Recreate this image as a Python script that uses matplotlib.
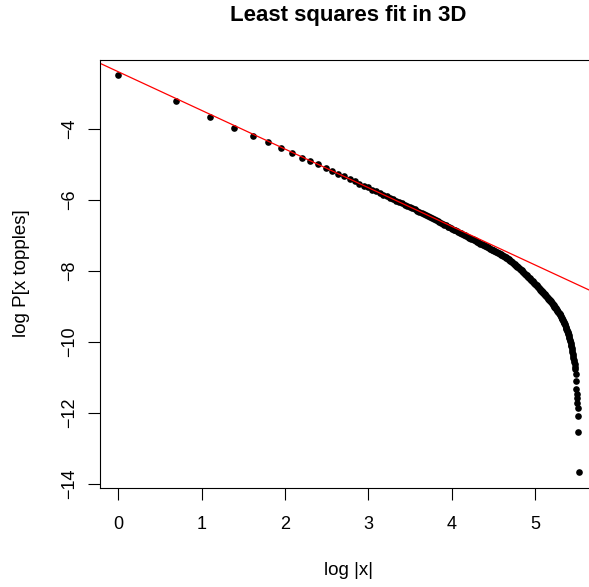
import numpy as np
import matplotlib
matplotlib.use("Agg")
import matplotlib.pyplot as plt

plt.rcParams['font.family'] = ['Liberation Sans', 'DejaVu Sans']

# avalanche sizes 1..250 and the estimated log probability of each
sizes = np.arange(1, 251)
log_p = [
    -2.49, -3.20, -3.65, -3.96, -4.20, -4.38, -4.54, -4.69, -4.81, -4.91,
    -5.00, -5.10, -5.18, -5.26, -5.34, -5.41, -5.48, -5.54, -5.60, -5.65,
    -5.71, -5.76, -5.80, -5.85, -5.90, -5.94, -5.98, -6.02, -6.06, -6.09,
    -6.13, -6.16, -6.20, -6.23, -6.26, -6.30, -6.33, -6.37, -6.40, -6.43,
    -6.46, -6.49, -6.52, -6.54, -6.58, -6.60, -6.62, -6.66, -6.68, -6.70,
    -6.72, -6.75, -6.77, -6.79, -6.82, -6.84, -6.86, -6.88, -6.90, -6.92,
    -6.94, -6.96, -6.98, -7.00, -7.02, -7.04, -7.06, -7.08, -7.09, -7.11,
    -7.13, -7.14, -7.16, -7.18, -7.19, -7.21, -7.23, -7.24, -7.26, -7.27,
    -7.29, -7.30, -7.32, -7.34, -7.35, -7.37, -7.38, -7.40, -7.41, -7.42,
    -7.44, -7.45, -7.47, -7.48, -7.49, -7.51, -7.52, -7.53, -7.54, -7.56,
    -7.57, -7.59, -7.61, -7.62, -7.64, -7.65, -7.67, -7.68, -7.70, -7.71,
    -7.73, -7.75, -7.76, -7.78, -7.80, -7.82, -7.83, -7.85, -7.87, -7.89,
    -7.90, -7.92, -7.94, -7.95, -7.97, -7.99, -8.01, -8.02, -8.04, -8.06,
    -8.08, -8.09, -8.11, -8.13, -8.14, -8.16, -8.18, -8.20, -8.21, -8.23,
    -8.25, -8.26, -8.28, -8.30, -8.31, -8.33, -8.35, -8.36, -8.38, -8.40,
    -8.41, -8.43, -8.45, -8.46, -8.48, -8.49, -8.51, -8.53, -8.54, -8.56,
    -8.57, -8.59, -8.60, -8.62, -8.64, -8.65, -8.67, -8.69, -8.70, -8.72,
    -8.74, -8.75, -8.77, -8.79, -8.80, -8.82, -8.83, -8.85, -8.86, -8.88,
    -8.90, -8.91, -8.93, -8.95, -8.97, -8.99, -9.01, -9.02, -9.04, -9.06,
    -9.08, -9.10, -9.11, -9.13, -9.15, -9.17, -9.18, -9.20, -9.22, -9.23,
    -9.25, -9.28, -9.30, -9.32, -9.35, -9.37, -9.39, -9.41, -9.43, -9.46,
    -9.48, -9.51, -9.54, -9.58, -9.61, -9.64, -9.67, -9.70, -9.73, -9.76,
    -9.79, -9.82, -9.86, -9.90, -9.94, -9.99, -10.04, -10.08, -10.13, -10.18,
    -10.23, -10.28, -10.34, -10.39, -10.45, -10.51, -10.57, -10.63, -10.70, -10.76,
    -10.90, -11.10, -11.33, -11.46, -11.59, -11.73, -11.87, -12.10, -12.55, -13.66,
]

# least squares line
fit_intercept = -2.39
fit_slope = -1.089

x_ticks = [0, 1, 2, 3, 4, 5]
y_ticks = [-4, -6, -8, -10, -12, -14]

log_x = np.log(sizes)

fig = plt.figure(figsize=(5.89, 5.87), dpi=100)
# plot region runs past the right edge of the picture, like the original
ax = fig.add_axes([0.1698, 0.1695, 0.8438, 0.7291])

ax.plot(log_x, log_p, 'o', color='black', markersize=4.8, markeredgewidth=0)
ax.axline((0, fit_intercept), slope=fit_slope, color='red', linewidth=0.9)

ax.set_xlim(-0.221, 5.742)
ax.set_ylim(-14.107, -2.043)
ax.set_xticks(x_ticks)
ax.set_yticks(y_ticks)
ax.tick_params(length=8.5, width=0.8, labelsize=13, color='black')
ax.tick_params(axis='x', pad=12)
ax.tick_params(axis='y', pad=7, labelrotation=90)
for lbl in ax.get_yticklabels():
    lbl.set_verticalalignment('center')
for sp in ax.spines.values():
    sp.set_linewidth(0.8)
    sp.set_color('black')

ax.set_xlabel("log |x|", fontsize=13.5)
ax.xaxis.set_label_coords(0.5, -0.1928)
ax.xaxis.label.set_verticalalignment('center')
ax.set_ylabel("log P[x topples]", fontsize=13.5)
ax.yaxis.set_label_coords(-0.157, 0.5)
ax.yaxis.label.set_verticalalignment('center')

ax.text(0.5, 1.0904, "Least squares fit in 3D", transform=ax.transAxes,
        ha='center', va='baseline', fontsize=16, fontweight='bold')

plt.savefig('out.png')
